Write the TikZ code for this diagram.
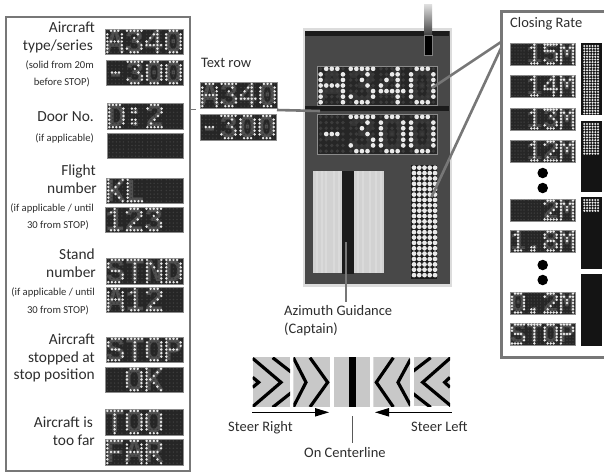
\documentclass[tikz,border=0pt]{standalone}
\usepackage{fontspec}
\setmainfont{Carlito}
\newfontfamily\ledfont{Liberation Mono}[BoldFont={* Bold}]
\definecolor{ink}{HTML}{2E2E2E}
\definecolor{frame}{HTML}{777777}
\definecolor{unitbody}{HTML}{484848}
\definecolor{unitedge}{HTML}{DCDCDC}
\definecolor{barblack}{HTML}{1B1B1B}
\definecolor{panelbg}{HTML}{262626}
\definecolor{dimdot}{HTML}{3C3C3C}
\definecolor{litdot}{HTML}{EAEAEA}
\definecolor{ghost}{HTML}{505050}
\definecolor{bigghost}{HTML}{343434}
\definecolor{tilebg}{HTML}{C8C8C8}
\definecolor{palebg}{HTML}{D2D2D2}
\definecolor{palestreak}{HTML}{DADADA}
\makeatletter
\newcount\ledchar \newcount\ledbit \newcount\ledrow \newcount\ledcol \newcount\ledtmp
\newdimen\ledpx \newdimen\ledpy \newdimen\ledox \newdimen\ledoy \newdimen\ledr
\newdimen\ledX \newdimen\ledY
\def\led@dot{%
  \ledrow=\ledbit \divide\ledrow by 5
  \ledtmp=\ledrow \multiply\ledtmp by 5
  \ledcol=\ledbit \advance\ledcol by -\ledtmp
  \ledX=\dimexpr\ledox+\ledpx*\ledcol+\ledpx*\ledchar*27/5\relax
  \ledY=\dimexpr\ledoy-\ledpy*\ledrow\relax
  \pgfpathcircle{\pgfqpoint{\ledX}{\ledY}}{\ledr}}
\def\led@bits#1{\ifx#1.\let\led@next\relax\else
  \ifnum#1=1 \led@dot\fi
  \advance\ledbit by 1 \let\led@next\led@bits\fi\led@next}
\def\led@run#1{\ledbit=0 \expandafter\expandafter\expandafter\led@bits\csname gl#1\endcsname.}
\def\led@chars#1{\ifx#1\relax\let\led@nextc\relax\else
  \ifx#1~\else\led@run{#1}\fi
  \advance\ledchar by 1 \let\led@nextc\led@chars\fi\led@nextc}
\def\led@setglyph#1#2{\@namedef{gl#1}{#2}}
\led@setglyph{all}{11111 11111 11111 11111 11111 11111 11111}
\led@setglyph{A}{01110 10001 10001 11111 10001 10001 10001}
\led@setglyph{0}{01110 10001 10001 10001 10001 10001 01110}
\led@setglyph{O}{01110 10001 10001 10001 10001 10001 01110}
\led@setglyph{1}{00100 01100 00100 00100 00100 00100 01110}
\led@setglyph{2}{01110 10001 00001 00010 00100 01000 11111}
\led@setglyph{3}{11111 00010 00100 00010 00001 10001 01110}
\led@setglyph{4}{00010 00110 01010 10010 11111 00010 00010}
\led@setglyph{5}{11111 10000 11110 00001 00001 10001 01110}
\led@setglyph{8}{01110 10001 10001 01110 10001 10001 01110}
\led@setglyph{-}{00000 00000 00000 01110 00000 00000 00000}
\led@setglyph{:}{00000 01100 01100 00000 01100 01100 00000}
\led@setglyph{.}{00000 00000 00000 00000 00000 01100 01100}
\led@setglyph{D}{11110 10001 10001 10001 10001 10001 11110}
\led@setglyph{K}{10001 10010 10100 11000 10100 10010 10001}
\led@setglyph{L}{10000 10000 10000 10000 10000 10000 11111}
\led@setglyph{S}{01111 10000 10000 01110 00001 00001 11110}
\led@setglyph{T}{11111 00100 00100 00100 00100 00100 00100}
\led@setglyph{N}{10001 11001 10101 10011 10001 10001 10001}
\led@setglyph{P}{11110 10001 10001 11110 10000 10000 10000}
\led@setglyph{F}{11111 10000 10000 11110 10000 10000 10000}
\led@setglyph{R}{11110 10001 10001 11110 10100 10010 10001}
\led@setglyph{M}{10001 11011 10101 10101 10001 10001 10001}
% name x1 y1 x2 y2 text litradius dimradius ghostcolour
\newcommand{\ledpanel}[9]{%
  \pgfmathsetmacro\ledW{#4-#2}\pgfmathsetmacro\ledH{#5-#3}%
  \pgfmathsetmacro\ledEm{\ledW/2.4}\pgfmathsetmacro\ledCap{\ledEm*0.66}%
  \node[ledbox,minimum width=\ledW pt,minimum height=\ledH pt,text height=\ledCap pt,text=#9,
        font=\fontsize{\ledEm pt}{\ledEm pt}\selectfont\ledfont\bfseries]
    (#1) at ({(#2+#4)/2},{(#3+#5)/2}) {\hbox to \ledW pt{#6\hss}};%
  \ledpx=\dimexpr\ledW pt*2/43\relax
  \ledpy=\dimexpr\ledH pt/7\relax
  \ledox=\dimexpr#2pt+\ledpx*13/20\relax
  \ledoy=\dimexpr-#3pt-\ledpy/2\relax
  \begin{pgfscope}\pgfsetfillcolor{dimdot}\ledr=#8pt
    \ledchar=0 \led@run{all}\ledchar=1 \led@run{all}\ledchar=2 \led@run{all}\ledchar=3 \led@run{all}%
    \pgfusepath{fill}\end{pgfscope}%
  \begin{pgfscope}\pgfsetfillcolor{litdot}\ledr=#7pt
    \ledchar=0 \led@chars#6\relax
    \pgfusepath{fill}\end{pgfscope}}
\makeatother
\newcommand{\smallled}[6]{\ledpanel{#1}{#2}{#3}{#4}{#5}{#6}{1.35}{0.85}{ghost}}
\newcommand{\bigled}[6]{\ledpanel{#1}{#2}{#3}{#4}{#5}{#6}{2.35}{1.9}{bigghost}}
\tikzset{
  ledbox/.style={fill=panelbg,draw=black!45,line width=.3pt,inner sep=0pt,outer sep=0pt,text depth=0pt,anchor=center},
  lab/.style={anchor=mid east,inner sep=0pt,text=ink,font=\fontsize{15.4}{18}\selectfont},
  sublab/.style={anchor=mid east,inner sep=0pt,text=ink,font=\fontsize{10.6}{12}\selectfont},
  plain/.style={anchor=mid west,inner sep=0pt,text=ink,font=\fontsize{14.5}{16}\selectfont},
  heavy/.style={draw=frame,line width=2.6pt},
  boxline/.style={draw=frame,line width=1.6pt},
  chev/.style={draw=black,line width=3.2pt,line join=miter},
  tile/.style={fill=tilebg,draw=none,inner sep=0pt,outer sep=0pt},
  leddot/.style={circle,fill=black,inner sep=0pt,minimum size=10.5pt},
}
\begin{document}
\begin{tikzpicture}[x=1pt,y=-1pt]
\useasboundingbox (0,0) rectangle (604,472);
\fill[white] (0,0) rectangle (604,472);

% ---------- left legend
\node[boxline,fill=white,inner sep=0,outer sep=0,minimum width=184pt,minimum height=454pt,anchor=north west] (legend) at (6,17) {};
\node[lab] (l1a) at (95,30) {Aircraft};
\node[lab] (l1b) at (93,48) {type/series};
\node[sublab] (l1c) at (94,66) {(solid from 20m};
\node[sublab] (l1d) at (90,83) {before STOP)};
\smallled{a1}{105}{29}{183}{54}{A340}
\smallled{a2}{106}{60}{183}{85}{-300}
\node[lab] (l2a) at (94,119) {Door No.};
\node[sublab] (l2b) at (94,139) {(if applicable)};
\smallled{b1}{107}{103}{183}{129}{D:2~}
\smallled{b2}{107}{133}{183}{158}{~~~~}
\node[lab] (l3a) at (96,173) {Flight};
\node[lab] (l3b) at (97,191) {number};
\node[sublab] (l3c) at (94,209) {(if applicable / until};
\node[sublab] (l3d) at (89,226) {30 from STOP)};
\smallled{c1}{106}{178}{183}{203}{KL~~}
\smallled{c2}{105}{207}{183}{232}{123~}
\node[lab] (l4a) at (95,257) {Stand};
\node[lab] (l4b) at (96,275) {number};
\node[sublab] (l4c) at (95,293) {(if applicable / until};
\node[sublab] (l4d) at (89,311) {30 from STOP)};
\smallled{d1}{106}{258}{183}{284}{STND}
\smallled{d2}{106}{287}{183}{312}{A12~}
\node[lab] (l5a) at (95,342) {Aircraft};
\node[lab] (l5b) at (95,360) {stopped at};
\node[lab] (l5c) at (95,377) {stop position};
\smallled{e1}{106}{337}{183}{362}{STOP}
\smallled{e2}{105}{367}{183}{392}{~OK~}
\node[lab] (l6a) at (93,425) {Aircraft is};
\node[lab] (l6b) at (95,443) {too far};
\smallled{f1}{105}{409}{183}{435}{TOO~}
\smallled{f2}{105}{439}{183}{465}{FAR~}

% ---------- text row sample
\node[plain] (textrow) at (201,65) {Text row};
\smallled{tr1}{200}{82}{277}{108}{A340}
\smallled{tr2}{200}{114}{276}{140}{-300}
\coordinate (legendtap) at (190,109);
\coordinate (rowtap) at (196,109);
\draw[draw=frame,line width=.8pt] (legendtap) -- (rowtap);

% ---------- main display unit
\node[draw=unitedge,line width=2.5pt,fill=unitbody,inner sep=0,outer sep=0,minimum width=147pt,minimum height=256pt,anchor=north west] (unit) at (304,29.5) {};
\fill[barblack] (305,31) rectangle (449,36);
\fill[barblack] (305,106) rectangle (449,111);
\shade[top color=black!12,bottom color=black!75] (424,4) rectangle (432,35);
\node[fill=black,draw=black!50,line width=.6pt,minimum width=8pt,minimum height=20pt,inner sep=0,anchor=north west] (sensor) at (424,35) {};
\bigled{u1}{317}{66}{437}{105}{A340}
\bigled{u2}{317}{114}{437}{154}{-300}

% azimuth panels
\node[fill=palebg,inner sep=0,outer sep=0,minimum width=29pt,minimum height=102pt,anchor=north west] (azl) at (313,171) {};
\node[fill=palebg,inner sep=0,outer sep=0,minimum width=30pt,minimum height=102pt,anchor=north west] (azr) at (354,171) {};
\foreach \sx in {316,321,325,333,338,357,362,369,375,380}{\fill[palestreak] (\sx,171) rectangle (\sx+1.6,273);}
\node[fill=barblack,inner sep=0,outer sep=0,minimum width=12pt,minimum height=103pt,anchor=north west] (azc) at (342,171) {};

% closing rate bar in unit
\node[fill=barblack,inner sep=0,outer sep=0,minimum width=26pt,minimum height=114pt,anchor=north west] (bar) at (411,165) {};
\foreach \cx in {0,...,4}\foreach \cy in {0,...,20}{\fill[litdot] (414+5.25*\cx,167.7+5.37*\cy) circle (2.35);}

% ---------- connectors over the unit
\coordinate (rowhit) at (320,111);
\coordinate (azhit) at (346,242);
\coordinate (azlabel) at (346,302);
\coordinate (ledhit) at (432,88);
\coordinate (barhit) at (431.5,197);
\coordinate (crjoin1) at (501,42);
\coordinate (crjoin2) at (502,46);
\draw[heavy] (tr1.south east) ++(0,2) -- (rowhit);
\draw[heavy] (azhit) -- (azlabel);
\draw[heavy] (ledhit) -- (crjoin1);
\draw[heavy] (barhit) -- (crjoin2);

% ---------- closing rate panel
\fill[white] (502,11) rectangle (604,358);
\draw[draw=frame,line width=3pt] (604,11.5) -- (501.5,11.5) -- (501.5,357.5) -- (604,357.5);
\node[plain] (crtitle) at (510,25) {Closing Rate};
\smallled{g1}{510}{43}{575}{65}{~15M}
\smallled{g2}{510}{75}{575}{97}{~14M}
\smallled{g3}{510}{108}{575}{130}{~13M}
\smallled{g4}{510}{140}{575}{162}{~12M}
\node[leddot] (gd1) at (542.7,173) {};
\node[leddot] (gd2) at (542.7,188) {};
\smallled{g5}{510}{199}{575}{221}{~~2M}
\smallled{g6}{510}{230}{575}{252}{1.8M}
\node[leddot] (gd3) at (542.7,265) {};
\node[leddot] (gd4) at (542.7,280) {};
\smallled{g7}{510}{292}{575}{314}{0.2M}
\smallled{g8}{510}{323}{575}{345}{STOP}

\foreach \n/\ya/\yb/\ylit in {h1/43/115/113,h2/121/192/153,h3/197/269/212,h4/274/346/0}{
  \node[fill=black!92,inner sep=0,outer sep=0,minimum width=21pt,minimum height={(\yb-\ya)*1pt},anchor=north west] (\n) at (581,\ya) {};
  \ifnum\ylit>0
    \pgfmathtruncatemacro\nrows{(\ylit-\ya-2)/2.7}
    \foreach \cy in {0,...,\nrows}\foreach \cx in {0,...,5}{\fill[litdot] (584.3+2.75*\cx,\ya+3+2.7*\cy) circle (1.15);}
  \fi
}

% ---------- azimuth guidance legend
\node[plain] (azcap1) at (284,313) {Azimuth Guidance};
\node[plain] (azcap2) at (284,331) {(Captain)};

\begin{scope}[shift={(210,290)},x=.33333pt,y=-.33333pt]
  \begin{scope}\clip (128,202) rectangle (240,350);
    \fill[tilebg] (128,202) rectangle (240,350);
    \draw[chev] (128,205) -- (213,277) -- (128,350);
    \draw[chev] (128,262) -- (146,277) -- (128,292);
    \draw[chev] (188,203) -- (283,277) -- (188,352);
  \end{scope}
  \begin{scope}\clip (250,202) rectangle (360,350);
    \fill[tilebg] (250,202) rectangle (360,350);
    \draw[chev] (250,203) -- (288,277) -- (250,351);
    \draw[chev] (300,203) -- (353,277) -- (300,351);
  \end{scope}
  \begin{scope}\clip (372,202) rectangle (480,350);
    \fill[tilebg] (372,202) rectangle (480,350);
    \fill[black] (416,202) rectangle (437,350);
  \end{scope}
  \begin{scope}\clip (490,202) rectangle (600,350);
    \fill[tilebg] (490,202) rectangle (600,350);
    \draw[chev] (550,203) -- (499,277) -- (550,351);
    \draw[chev] (602,207) -- (564,277) -- (602,347);
  \end{scope}
  \begin{scope}\clip (612,202) rectangle (720,348);
    \fill[tilebg] (612,202) rectangle (720,348);
    \draw[chev] (722,203) -- (638,277) -- (722,347);
    \draw[chev] (720,262) -- (704,277) -- (720,292);
    \draw[chev] (662,203) -- (566,277) -- (662,352);
  \end{scope}
\end{scope}

\coordinate (srs) at (252,412.3);
\coordinate (sre) at (329,412.3);
\coordinate (sls) at (451.7,412.3);
\coordinate (sle) at (375,412.3);
\fill[black] (sre) -- (315,408) -- (315,416.6) -- cycle;
\fill[black] (sle) -- (389,408) -- (389,416.6) -- cycle;
\draw[black,line width=.6pt] (srs) -- (315,412.3);
\draw[black,line width=.6pt] (sls) -- (389,412.3);
\node[plain] (steerr) at (228,429) {Steer Right};
\node[plain] (steerl) at (411,429) {Steer Left};
\node[plain] (oncl) at (304,455) {On Centerline};
\coordinate (cltop) at (352,416);
\coordinate (clbot) at (352,443);
\draw[draw=black!65,line width=.8pt] (cltop) -- (clbot);
\end{tikzpicture}
\end{document}
